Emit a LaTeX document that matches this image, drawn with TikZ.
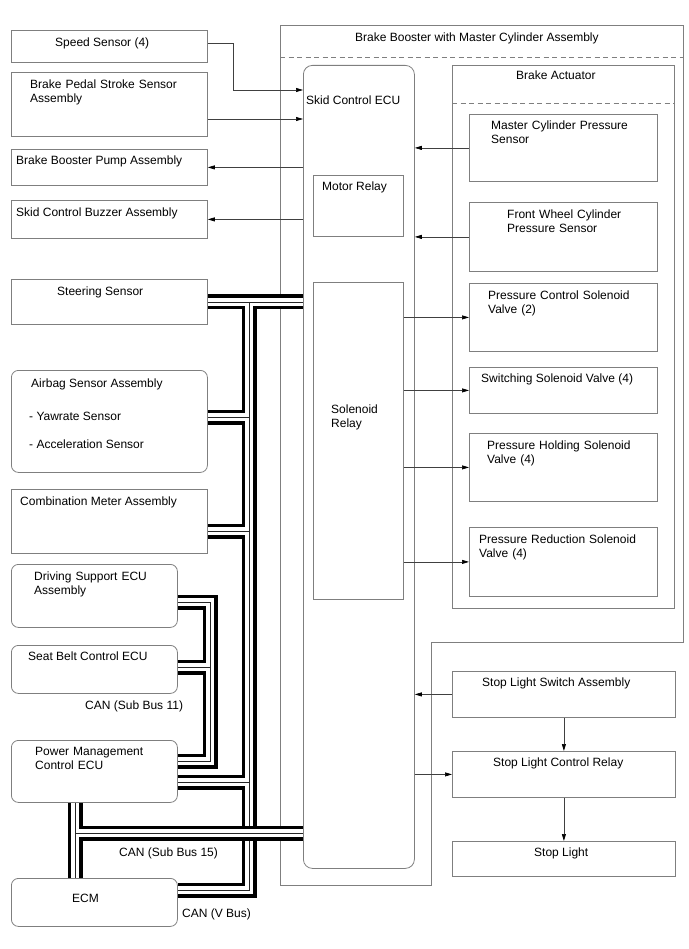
\documentclass[tikz,border=0pt]{standalone}
\usepackage{fontspec}
\setmainfont{Liberation Sans}
\usetikzlibrary{arrows.meta}
\definecolor{boxgray}{HTML}{7F7F7F}
\definecolor{linegray}{HTML}{404040}
\tikzset{
  blk/.style 2 args={draw=boxgray, line width=0.8pt, anchor=north west, inner sep=0pt,
    minimum width=#1, minimum height=#2},
  rblk/.style 2 args={blk={#1}{#2}, rounded corners=7pt},
  txt/.style={anchor=base west, inner sep=0pt, font=\fontsize{12}{14}\selectfont},
  txtm/.style={txt, text width=180pt, align=left},
  sig/.style={draw=linegray, line width=0.7pt, ->},
  asm/.style={draw=boxgray, line width=0.8pt},
}
\newcommand{\canbus}[1]{%
  \draw[line width=15pt, black] #1;
  \draw[line width=8pt, white] #1;
  \draw[line width=0.8pt, black!85] #1;}
\begin{document}
\begin{tikzpicture}[x=1pt,y=-1pt,>={Triangle[length=7pt,width=4pt,color=black]}]
  \useasboundingbox (0,0) rectangle (688,949);
  % left column
  \node[blk={196}{32}] (spd) at (11,30) {};
  \node[blk={196}{64}] (bpss) at (11,72) {};
  \node[blk={196}{36}] (bbpa) at (11,149) {};
  \node[blk={196}{38}] (scba) at (11,200) {};
  \node[blk={196}{45}] (steer) at (11,279) {};
  \node[rblk={196}{102}] (airbag) at (11,370) {};
  \node[blk={196}{64}] (cma) at (11,489) {};
  \node[rblk={166}{63}] (dsecu) at (11,564) {};
  \node[rblk={166}{48}] (sbcu) at (11,645) {};
  \node[rblk={166}{62}] (pmcu) at (11,740) {};
  \node[rblk={166}{48}] (ecm) at (11,878) {};
  \node[txt] (spd-t) at (55,47) {Speed Sensor (4)};
  \node[txtm] (bpss-t) at (30,89) {Brake Pedal Stroke Sensor\\Assembly};
  \node[txt] (bbpa-t) at (16,165) {Brake Booster Pump Assembly};
  \node[txt] (scba-t) at (16,217) {Skid Control Buzzer Assembly};
  \node[txt] (steer-t) at (57,295) {Steering Sensor};
  \node[txt] (airbag-t) at (31,387) {Airbag Sensor Assembly};
  \node[txt] (yaw-t) at (29,420) {- Yawrate Sensor};
  \node[txt] (acc-t) at (29,448) {- Acceleration Sensor};
  \node[txt] (cma-t) at (20,505) {Combination Meter Assembly};
  \node[txtm] (dsecu-t) at (34,580) {Driving Support ECU\\Assembly};
  \node[txt] (sbcu-t) at (28,660) {Seat Belt Control ECU};
  \node[txtm] (pmcu-t) at (35,755) {Power Management\\Control ECU};
  \node[txt] (ecm-t) at (72,902) {ECM};
  \node[txt] (sb11-t) at (85,709) {CAN (Sub Bus 11)};
  \node[txt] (sb15-t) at (119,856) {CAN (Sub Bus 15)};
  \node[txt] (vbus-t) at (182,917) {CAN (V Bus)};
  % brake booster
  \draw[asm] (280,25) -- (683,25) -- (683,642) -- (431,642) -- (431,885) -- (280,885) -- cycle;
  \draw[asm, dash pattern=on 5pt off 3.5pt] (280,57) -- (683,57);
  \node[txt] (bbmc-t) at (355,42) {Brake Booster with Master Cylinder Assembly};
  \node[blk={111}{803}, rounded corners=9pt] (ecu) at (303,65) {};
  \node[blk={90}{61}] (motor) at (313,175) {};
  \node[blk={90}{317}] (solrly) at (313,282) {};
  \node[txt] (ecu-t) at (306,105) {Skid Control ECU};
  \node[txt] (motor-t) at (322,191) {Motor Relay};
  \node[txtm] (solrly-t) at (331,413) {Solenoid\\Relay};
  \node[blk={222}{543}] (act) at (452,65) {};
  \draw[asm, dash pattern=on 5pt off 3.5pt] (act.west |- 0,103) -- (act.east |- 0,103);
  \node[txt] (act-t) at (516,80) {Brake Actuator};
  \node[blk={188}{67}] (mcps) at (469,114) {};
  \node[blk={188}{69}] (fwcps) at (469,202) {};
  \node[blk={188}{68}] (pcsv) at (469,283) {};
  \node[blk={188}{46}] (ssv) at (469,367) {};
  \node[blk={188}{68}] (phsv) at (469,433) {};
  \node[blk={188}{69}] (prsv) at (469,527) {};
  \node[txtm] (mcps-t) at (491,130) {Master Cylinder Pressure\\Sensor};
  \node[txtm] (fwcps-t) at (507,219) {Front Wheel Cylinder\\Pressure Sensor};
  \node[txtm] (pcsv-t) at (488,299) {Pressure Control Solenoid\\Valve (2)};
  \node[txt] (ssv-t) at (481,382) {Switching Solenoid Valve (4)};
  \node[txtm] (phsv-t) at (487,449) {Pressure Holding Solenoid\\Valve (4)};
  \node[txtm] (prsv-t) at (479,543) {Pressure Reduction Solenoid\\Valve (4)};
  % stop light
  \node[blk={223}{46}] (slsa) at (452,671) {};
  \node[blk={223}{46}] (slcr) at (452,751) {};
  \node[blk={223}{35}] (stl) at (452,841) {};
  \node[txt] (slsa-t) at (482,686) {Stop Light Switch Assembly};
  \node[txt] (slcr-t) at (493,766) {Stop Light Control Relay};
  \node[txt] (stl-t) at (534,856) {Stop Light};
  % signals
  \draw[sig] (spd.east |- 0,43) -- ++(26,0) |- (ecu.west |- 0,90);
  \draw[sig] (bpss.east |- 0,119) -- (ecu.west |- 0,119);
  \draw[sig] (ecu.west |- bbpa.east) -- (bbpa.east);
  \draw[sig] (ecu.west |- scba.east) -- (scba.east);
  \draw[sig] (mcps.west) -- (ecu.east |- mcps.west);
  \draw[sig] (fwcps.west) -- (ecu.east |- fwcps.west);
  \foreach \v in {pcsv,ssv,phsv,prsv}
    \draw[sig] (solrly.east |- \v.west) -- (\v.west);
  \draw[sig] (slsa.west) -- (ecu.east |- slsa.west);
  \draw[sig] (ecu.east |- slcr.west) -- (slcr.west);
  \draw[sig] (slsa.south) -- (slcr.north);
  \draw[sig] (slcr.south) -- (stl.north);
  % CAN
  \coordinate (vb) at (249,0);
  \coordinate (sb11) at (210,0);
  \coordinate (sb15) at (75,0);
  \canbus{(steer.east) -- (ecu.west |- steer.east)
    (vb |- steer.east) -- (vb |- 0,890) -- (ecm.east |- 0,890)
    (airbag.east |- 0,417) -- (vb |- 0,417)
    (cma.east |- 0,531) -- (vb |- 0,531)
    (pmcu.east |- 0,782) -- (vb |- 0,782)}
  \canbus{(dsecu.east |- 0,602) -- (sb11 |- 0,602) -- (sb11 |- 0,761) -- (pmcu.east |- 0,761)
    (sbcu.east |- 0,667) -- (sb11 |- 0,667)}
  \canbus{(sb15 |- pmcu.south) -- (sb15 |- ecm.north)
    (sb15 |- 0,833) -- (ecu.west |- 0,833)}
\end{tikzpicture}
\end{document}
